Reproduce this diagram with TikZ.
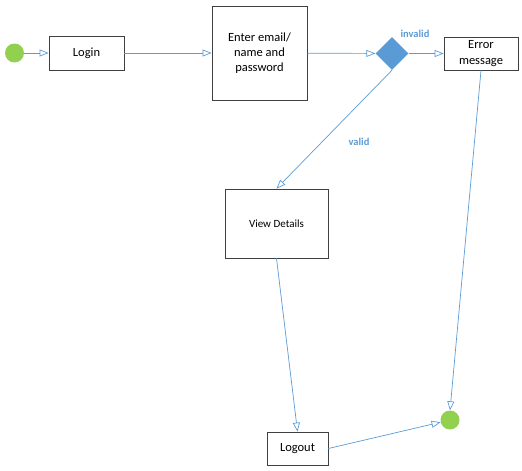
\documentclass[tikz,border=0pt]{standalone}
\usepackage{fontspec}
\setmainfont{Carlito}
\usetikzlibrary{arrows.meta,shapes.geometric}
\definecolor{flow}{HTML}{5B9BD5}
\definecolor{startgreen}{HTML}{92D050}
\definecolor{boxline}{HTML}{404040}
\begin{document}
\begin{tikzpicture}[x=1pt,y=-1pt,
  box/.style={draw=boxline,line width=0.8pt,fill=white,inner sep=0pt,align=center,
    font=\fontsize{12.5}{15}\selectfont},
  dot/.style={circle,fill=startgreen,minimum size=19pt,inner sep=0pt},
  flowline/.style={draw=flow,line width=0.7pt,-{Triangle[open,length=9pt,width=7pt]}},
  guard/.style={text=flow,font=\fontsize{10.5}{12}\selectfont\bfseries}]
\useasboundingbox (0,0) rectangle (522,471);
% nodes
\node[dot] (start) at (14.5,53) {};
\node[box,minimum width=75pt,minimum height=34pt] (login) at (86.5,53) {Login};
\node[box,minimum width=95pt,minimum height=94pt] (enter) at (259.5,53) {Enter email/\\name and\\password};
\node[diamond,fill=flow,minimum width=33pt,minimum height=33pt,inner sep=0pt] (check) at (392,53.5) {};
\node[box,minimum width=74pt,minimum height=33pt,font=\fontsize{12.5}{16}\selectfont] (err) at (481,53.5) {Error\\message};
\node[box,minimum width=103pt,minimum height=69pt,font=\fontsize{11}{13}\selectfont] (view) at (276.5,223.5) {View Details};
\node[box,minimum width=61pt,minimum height=33pt] (logout) at (297.5,448.5) {Logout};
\node[dot] (end) at (450,420) {};
% guard labels
\node[guard] (inv) at (415,34) {invalid};
\node[guard] (val) at (359,142) {valid};
% connectors
\draw[flowline] (start) -- (login);
\draw[flowline] (login) -- (enter);
\draw[flowline] (enter) -- (check);
\draw[flowline] (check) -- (err);
\draw[flowline] (check.south) -- (view.north);
\draw[flowline] (view.south) -- (logout.north);
\draw[flowline] (logout.east) -- (end);
\draw[flowline] (err.south) -- (end.north);
\end{tikzpicture}
\end{document}
